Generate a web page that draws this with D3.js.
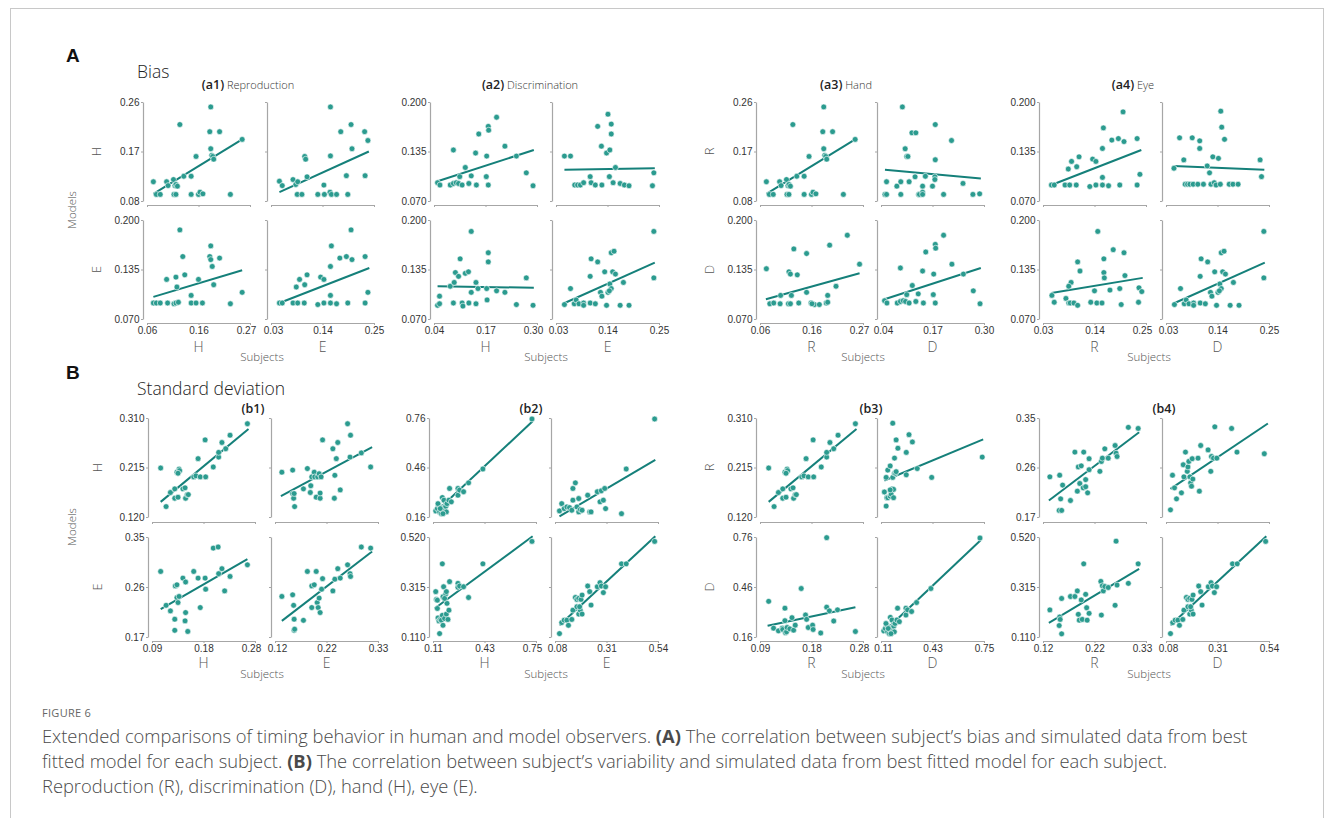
<!DOCTYPE html>
<html><head><meta charset="utf-8">
<script src="https://cdn.jsdelivr.net/npm/d3@7"></script>
<style>body{margin:0;background:#fff}svg{display:block}</style>
</head><body>
<svg id="c" width="1333" height="818"></svg>
<script>
// ---------- axes (domain + tick labels: min, mid, max) ----------
const X1 = [0.06, 0.27], X1L = ["0.06","0.16","0.27"];
const X2 = [0.03, 0.25], X2L = ["0.03","0.14","0.25"];
const X3 = [0.04, 0.30], X3L = ["0.04","0.17","0.30"];
const Y1 = [0.08, 0.26], Y1L = ["0.08","0.17","0.26"];
const Y2 = [0.070, 0.200], Y2L = ["0.070","0.135","0.200"];
const X4 = [0.09, 0.28], X4L = ["0.09","0.18","0.28"];
const X5 = [0.12, 0.33], X5L = ["0.12","0.22","0.33"];
const X6 = [0.11, 0.75], X6L = ["0.11","0.43","0.75"];
const X7 = [0.08, 0.54], X7L = ["0.08","0.31","0.54"];
const Y3 = [0.120, 0.310], Y3L = ["0.120","0.215","0.310"];
const Y4 = [0.17, 0.35], Y4L = ["0.17","0.26","0.35"];
const Y5 = [0.16, 0.76], Y5L = ["0.16","0.46","0.76"];
const Y6 = [0.110, 0.520], Y6L = ["0.110","0.315","0.520"];

// ---------- A: bias (subject x, model y) ----------
const biasRepHH = [[0.073,0.115],[0.079,0.092],[0.087,0.092],[0.100,0.115],[0.103,0.108],[0.114,0.119],[0.117,0.108],[0.119,0.110],[0.122,0.107],[0.115,0.092],[0.119,0.092],[0.127,0.219],[0.135,0.125],[0.150,0.125],[0.150,0.092],[0.160,0.161],[0.165,0.092],[0.168,0.096],[0.174,0.093],[0.190,0.251],[0.188,0.206],[0.208,0.206],[0.190,0.175],[0.192,0.163],[0.194,0.161],[0.196,0.156],[0.230,0.092],[0.254,0.192]];
const biasRepHHFit = [0.073,0.093,0.254,0.192];
const biasRepHE = [[0.048,0.116],[0.054,0.108],[0.077,0.119],[0.083,0.110],[0.087,0.115],[0.086,0.092],[0.096,0.092],[0.102,0.161],[0.104,0.156],[0.107,0.124],[0.130,0.092],[0.143,0.109],[0.144,0.092],[0.156,0.096],[0.159,0.092],[0.170,0.092],[0.157,0.251],[0.157,0.162],[0.179,0.206],[0.201,0.219],[0.230,0.206],[0.237,0.190],[0.203,0.175],[0.191,0.126],[0.194,0.092],[0.231,0.126]];
const biasRepHEFit = [0.048,0.096,0.239,0.170];
const biasRepEH = [[0.073,0.091],[0.079,0.091],[0.087,0.091],[0.102,0.091],[0.115,0.090],[0.119,0.091],[0.124,0.092],[0.100,0.122],[0.119,0.125],[0.121,0.112],[0.127,0.187],[0.133,0.152],[0.137,0.128],[0.150,0.101],[0.150,0.091],[0.160,0.091],[0.165,0.122],[0.173,0.091],[0.190,0.166],[0.188,0.152],[0.190,0.148],[0.193,0.139],[0.208,0.150],[0.196,0.115],[0.230,0.090],[0.254,0.105]];
const biasRepEHFit = [0.073,0.099,0.254,0.134];
const biasRepEE = [[0.048,0.091],[0.054,0.091],[0.077,0.091],[0.087,0.091],[0.101,0.091],[0.130,0.089],[0.143,0.091],[0.157,0.091],[0.170,0.090],[0.194,0.091],[0.231,0.091],[0.084,0.112],[0.091,0.122],[0.102,0.115],[0.107,0.128],[0.136,0.125],[0.143,0.122],[0.157,0.101],[0.157,0.139],[0.159,0.166],[0.177,0.150],[0.191,0.152],[0.201,0.187],[0.203,0.148],[0.231,0.152],[0.237,0.105]];
const biasRepEEFit = [0.048,0.091,0.240,0.137];
const biasDisHH = [[0.049,0.094],[0.055,0.091],[0.081,0.091],[0.089,0.093],[0.096,0.094],[0.102,0.093],[0.111,0.091],[0.089,0.137],[0.105,0.102],[0.119,0.114],[0.128,0.093],[0.134,0.103],[0.147,0.091],[0.153,0.158],[0.145,0.133],[0.173,0.129],[0.172,0.102],[0.177,0.168],[0.178,0.163],[0.177,0.091],[0.198,0.180],[0.219,0.142],[0.248,0.129],[0.273,0.107],[0.290,0.090]];
const biasDisHHFit = [0.049,0.096,0.292,0.137];
const biasDisHE = [[0.048,0.129],[0.061,0.129],[0.070,0.091],[0.076,0.091],[0.082,0.091],[0.089,0.094],[0.103,0.102],[0.105,0.094],[0.114,0.091],[0.119,0.168],[0.127,0.142],[0.128,0.091],[0.138,0.133],[0.141,0.184],[0.145,0.137],[0.148,0.171],[0.148,0.158],[0.144,0.102],[0.152,0.094],[0.157,0.114],[0.167,0.093],[0.176,0.091],[0.186,0.090],[0.236,0.090],[0.239,0.107]];
const biasDisHEFit = [0.048,0.111,0.241,0.113];
const biasDisEH = [[0.049,0.088],[0.054,0.090],[0.054,0.100],[0.081,0.113],[0.089,0.091],[0.091,0.118],[0.094,0.131],[0.102,0.126],[0.106,0.149],[0.111,0.091],[0.113,0.087],[0.119,0.130],[0.128,0.091],[0.127,0.132],[0.134,0.185],[0.134,0.105],[0.146,0.118],[0.146,0.090],[0.151,0.110],[0.173,0.110],[0.174,0.095],[0.177,0.157],[0.177,0.145],[0.198,0.107],[0.219,0.105],[0.248,0.089],[0.273,0.124],[0.290,0.088]];
const biasDisEHFit = [0.049,0.113,0.292,0.111];
const biasDisEE = [[0.048,0.089],[0.061,0.110],[0.069,0.090],[0.073,0.095],[0.079,0.090],[0.089,0.091],[0.089,0.088],[0.103,0.091],[0.103,0.126],[0.105,0.149],[0.114,0.090],[0.119,0.145],[0.125,0.105],[0.128,0.100],[0.134,0.132],[0.138,0.088],[0.141,0.105],[0.145,0.116],[0.148,0.110],[0.151,0.132],[0.148,0.157],[0.154,0.159],[0.157,0.129],[0.167,0.088],[0.174,0.118],[0.186,0.088],[0.239,0.185],[0.239,0.124],[0.144,0.107]];
const biasDisEEFit = [0.045,0.090,0.241,0.144];
const biasHandRD = [[0.054,0.115],[0.050,0.092],[0.054,0.092],[0.080,0.107],[0.090,0.115],[0.090,0.092],[0.094,0.251],[0.101,0.175],[0.105,0.161],[0.108,0.161],[0.111,0.115],[0.118,0.204],[0.128,0.204],[0.126,0.124],[0.135,0.092],[0.137,0.092],[0.145,0.107],[0.145,0.096],[0.145,0.092],[0.152,0.125],[0.170,0.107],[0.176,0.124],[0.176,0.119],[0.177,0.219],[0.177,0.155],[0.198,0.092],[0.218,0.190],[0.247,0.112],[0.272,0.092],[0.289,0.093]];
const biasHandRDFit = [0.050,0.137,0.292,0.121];
const biasHandDR = [[0.073,0.136],[0.080,0.090],[0.088,0.091],[0.101,0.090],[0.102,0.101],[0.118,0.090],[0.119,0.132],[0.122,0.090],[0.122,0.129],[0.124,0.101],[0.129,0.162],[0.136,0.128],[0.139,0.091],[0.155,0.156],[0.155,0.105],[0.164,0.091],[0.171,0.089],[0.181,0.089],[0.195,0.091],[0.198,0.101],[0.202,0.167],[0.215,0.113],[0.238,0.180],[0.263,0.142],[0.198,0.092],[0.166,0.090]];
const biasHandDRFit = [0.072,0.096,0.263,0.130];
const biasEyeRD = [[0.047,0.113],[0.059,0.153],[0.068,0.124],[0.071,0.092],[0.076,0.092],[0.081,0.092],[0.088,0.092],[0.086,0.153],[0.098,0.092],[0.102,0.149],[0.102,0.139],[0.110,0.092],[0.118,0.116],[0.123,0.107],[0.126,0.092],[0.130,0.128],[0.133,0.094],[0.137,0.091],[0.142,0.126],[0.146,0.092],[0.147,0.188],[0.149,0.167],[0.155,0.151],[0.165,0.092],[0.173,0.092],[0.184,0.092],[0.231,0.124],[0.234,0.102]];
const biasEyeRDFit = [0.046,0.116,0.240,0.111];
const biasEyeDR = [[0.049,0.101],[0.054,0.092],[0.079,0.097],[0.085,0.091],[0.088,0.091],[0.090,0.118],[0.085,0.113],[0.096,0.091],[0.104,0.088],[0.104,0.145],[0.109,0.133],[0.132,0.092],[0.140,0.107],[0.145,0.091],[0.147,0.185],[0.156,0.091],[0.160,0.149],[0.160,0.131],[0.161,0.124],[0.173,0.108],[0.180,0.161],[0.194,0.110],[0.197,0.089],[0.203,0.157],[0.205,0.127],[0.234,0.092],[0.235,0.111],[0.241,0.106]];
const biasEyeDRFit = [0.048,0.104,0.243,0.124];

// ---------- B: standard deviation ----------
const sdRepHH = [[0.106,0.214],[0.116,0.140],[0.124,0.167],[0.132,0.174],[0.132,0.156],[0.136,0.206],[0.138,0.158],[0.140,0.212],[0.141,0.209],[0.147,0.174],[0.151,0.176],[0.152,0.156],[0.155,0.163],[0.157,0.163],[0.167,0.197],[0.171,0.199],[0.175,0.232],[0.179,0.197],[0.189,0.197],[0.188,0.268],[0.203,0.216],[0.213,0.235],[0.213,0.244],[0.219,0.263],[0.226,0.251],[0.234,0.277],[0.266,0.299],[0.138,0.204]];
const sdRepHHFit = [0.106,0.149,0.268,0.289];
const sdRepHE = [[0.134,0.206],[0.156,0.210],[0.156,0.165],[0.158,0.156],[0.159,0.165],[0.160,0.140],[0.178,0.174],[0.186,0.213],[0.192,0.167],[0.193,0.180],[0.195,0.197],[0.200,0.206],[0.201,0.197],[0.204,0.158],[0.207,0.197],[0.210,0.203],[0.212,0.156],[0.212,0.166],[0.214,0.197],[0.217,0.268],[0.238,0.251],[0.241,0.156],[0.242,0.200],[0.245,0.232],[0.248,0.263],[0.253,0.172],[0.268,0.299],[0.273,0.235],[0.274,0.277],[0.296,0.243],[0.315,0.216]];
const sdRepHEFit = [0.132,0.160,0.318,0.254];
const sdRepEH = [[0.106,0.288],[0.116,0.227],[0.124,0.217],[0.132,0.202],[0.132,0.182],[0.133,0.262],[0.136,0.264],[0.136,0.241],[0.138,0.232],[0.140,0.243],[0.147,0.276],[0.151,0.199],[0.152,0.214],[0.152,0.269],[0.156,0.180],[0.167,0.288],[0.175,0.276],[0.179,0.223],[0.188,0.276],[0.189,0.256],[0.203,0.330],[0.212,0.332],[0.213,0.284],[0.219,0.293],[0.224,0.253],[0.234,0.279],[0.266,0.300]];
const sdRepEHFit = [0.106,0.220,0.266,0.310];
const sdRepEE = [[0.134,0.243],[0.156,0.246],[0.158,0.227],[0.159,0.202],[0.159,0.182],[0.160,0.184],[0.178,0.200],[0.186,0.288],[0.195,0.223],[0.195,0.262],[0.200,0.264],[0.204,0.288],[0.206,0.232],[0.208,0.223],[0.210,0.240],[0.212,0.214],[0.215,0.256],[0.217,0.275],[0.238,0.253],[0.242,0.274],[0.248,0.293],[0.253,0.276],[0.268,0.300],[0.273,0.284],[0.274,0.279],[0.296,0.332],[0.315,0.330]];
const sdRepEEFit = [0.134,0.199,0.318,0.324];
const sdDisHH = [[0.127,0.197],[0.137,0.211],[0.147,0.231],[0.151,0.191],[0.162,0.180],[0.168,0.278],[0.172,0.201],[0.178,0.262],[0.182,0.217],[0.189,0.225],[0.193,0.191],[0.197,0.241],[0.209,0.262],[0.213,0.333],[0.224,0.252],[0.265,0.333],[0.265,0.292],[0.275,0.323],[0.300,0.313],[0.331,0.367],[0.420,0.451],[0.725,0.754],[0.141,0.241],[0.155,0.211],[0.172,0.180]];
const sdDisHHFit = [0.120,0.184,0.729,0.740];
const sdDisHE = [[0.100,0.197],[0.110,0.241],[0.121,0.211],[0.133,0.221],[0.145,0.217],[0.155,0.201],[0.160,0.262],[0.160,0.333],[0.171,0.367],[0.178,0.221],[0.186,0.272],[0.186,0.191],[0.193,0.205],[0.201,0.201],[0.226,0.292],[0.235,0.191],[0.241,0.191],[0.269,0.313],[0.281,0.252],[0.287,0.319],[0.296,0.262],[0.302,0.333],[0.306,0.211],[0.377,0.180],[0.398,0.451],[0.525,0.754]];
const sdDisHEFit = [0.100,0.164,0.528,0.506];
const sdDisEH = [[0.127,0.296],[0.131,0.264],[0.137,0.261],[0.137,0.227],[0.141,0.188],[0.147,0.176],[0.151,0.124],[0.155,0.182],[0.162,0.179],[0.168,0.410],[0.168,0.199],[0.172,0.275],[0.172,0.158],[0.176,0.316],[0.182,0.186],[0.189,0.286],[0.193,0.296],[0.193,0.204],[0.197,0.248],[0.203,0.182],[0.209,0.220],[0.213,0.337],[0.265,0.330],[0.265,0.314],[0.275,0.319],[0.300,0.316],[0.331,0.272],[0.420,0.410],[0.725,0.502],[0.182,0.268]];
const sdDisEHFit = [0.120,0.227,0.729,0.523];
const sdDisEE = [[0.100,0.124],[0.110,0.169],[0.121,0.179],[0.133,0.179],[0.140,0.158],[0.155,0.182],[0.160,0.220],[0.171,0.272],[0.178,0.264],[0.186,0.268],[0.186,0.204],[0.193,0.220],[0.196,0.264],[0.201,0.282],[0.201,0.204],[0.226,0.319],[0.235,0.296],[0.241,0.241],[0.269,0.316],[0.281,0.333],[0.287,0.319],[0.296,0.292],[0.306,0.316],[0.377,0.410],[0.398,0.410],[0.525,0.502],[0.178,0.234],[0.190,0.234]];
const sdDisEEFit = [0.100,0.158,0.528,0.523];
const sdHandRD = [[0.131,0.168],[0.142,0.141],[0.146,0.157],[0.142,0.196],[0.152,0.157],[0.152,0.210],[0.167,0.218],[0.167,0.160],[0.173,0.164],[0.179,0.174],[0.183,0.300],[0.183,0.196],[0.188,0.157],[0.188,0.173],[0.194,0.233],[0.194,0.204],[0.200,0.204],[0.204,0.268],[0.204,0.207],[0.215,0.252],[0.267,0.244],[0.267,0.201],[0.284,0.278],[0.305,0.264],[0.335,0.213],[0.425,0.196],[0.739,0.235],[0.167,0.172]];
const sdHandRDFit = [0.131,0.190,0.745,0.269];
const sdHandDR = [[0.106,0.374],[0.115,0.213],[0.124,0.197],[0.131,0.213],[0.132,0.205],[0.136,0.333],[0.136,0.258],[0.137,0.186],[0.139,0.191],[0.140,0.217],[0.145,0.209],[0.149,0.276],[0.152,0.201],[0.155,0.231],[0.166,0.451],[0.174,0.292],[0.176,0.266],[0.179,0.217],[0.187,0.231],[0.188,0.205],[0.202,0.184],[0.213,0.339],[0.213,0.756],[0.218,0.317],[0.226,0.256],[0.233,0.323],[0.266,0.193]];
const sdHandDRFit = [0.104,0.227,0.266,0.339];
const sdEyeRR = [[0.134,0.243],[0.153,0.182],[0.154,0.246],[0.156,0.203],[0.158,0.182],[0.160,0.228],[0.176,0.200],[0.185,0.288],[0.190,0.217],[0.192,0.261],[0.195,0.231],[0.198,0.263],[0.202,0.223],[0.203,0.288],[0.207,0.238],[0.207,0.225],[0.211,0.214],[0.214,0.276],[0.214,0.256],[0.236,0.253],[0.239,0.271],[0.241,0.277],[0.246,0.294],[0.253,0.277],[0.267,0.300],[0.269,0.286],[0.271,0.280],[0.294,0.333],[0.314,0.331]];
const sdEyeRRFit = [0.132,0.200,0.316,0.324];
const sdEyeRD = [[0.100,0.183],[0.109,0.246],[0.118,0.223],[0.127,0.203],[0.149,0.214],[0.157,0.265],[0.160,0.243],[0.167,0.288],[0.175,0.253],[0.178,0.261],[0.182,0.271],[0.187,0.243],[0.190,0.232],[0.194,0.226],[0.197,0.276],[0.200,0.239],[0.223,0.277],[0.229,0.217],[0.235,0.300],[0.268,0.292],[0.280,0.253],[0.283,0.280],[0.292,0.277],[0.298,0.334],[0.307,0.277],[0.373,0.331],[0.397,0.288],[0.519,0.285]];
const sdEyeRDFit = [0.100,0.221,0.535,0.340];
const sdEyeDR = [[0.134,0.221],[0.153,0.157],[0.154,0.192],[0.155,0.182],[0.158,0.268],[0.158,0.123],[0.176,0.276],[0.185,0.276],[0.190,0.299],[0.192,0.203],[0.194,0.179],[0.198,0.262],[0.200,0.182],[0.203,0.410],[0.207,0.285],[0.209,0.230],[0.210,0.179],[0.214,0.207],[0.238,0.338],[0.239,0.200],[0.241,0.320],[0.243,0.299],[0.246,0.317],[0.253,0.313],[0.267,0.240],[0.271,0.323],[0.294,0.330],[0.314,0.410],[0.269,0.503]];
const sdEyeDRFit = [0.132,0.168,0.316,0.389];

// ---------- text ----------
const groupTitlesA = [["(a1)"," Reproduction"],["(a2)"," Discrimination"],["(a3)"," Hand"],["(a4)"," Eye"]];
const groupTitlesB = [["(b1)",""],["(b2)",""],["(b3)",""],["(b4)",""]];
const captionLines = [
 [["Extended comparisons of timing behavior in human and model observers. ",0],["(A)",1],[" The correlation between subject’s bias and simulated data from best",0]],
 [["fitted model for each subject. ",0],["(B)",1],[" The correlation between subject’s variability and simulated data from best fitted model for each subject.",0]],
 [["Reproduction (R), discrimination (D), hand (H), eye (E).",0]]
];

// ---------- layout (built from the arrays above) ----------
const sections = [
 { label:"A", title:"Bias", labelY:62, titleY:78, groupTitleY:89,
   rows:[[102,201,205],[220,319,323]], colLabY:352, subjY:361, modelsY:210,
   groups:[
    {yl:[143,267], tx:248, sx:262, cols:[[X1,X1L],[X2,X2L]], rowsAx:[[Y1,Y1L],[Y2,Y2L]], rl:["H","E"], cl:["H","E"], rowLabX:97,
     p:[[[biasRepHH,biasRepHHFit],[biasRepHE,biasRepHEFit]],[[biasRepEH,biasRepEHFit],[biasRepEE,biasRepEEFit]]]},
    {yl:[430,552], tx:530, sx:546, cols:[[X3,X3L],[X2,X2L]], rowsAx:[[Y2,Y2L],[Y2,Y2L]], rl:null, cl:["H","E"],
     p:[[[biasDisHH,biasDisHHFit],[biasDisHE,biasDisHEFit]],[[biasDisEH,biasDisEHFit],[biasDisEE,biasDisEEFit]]]},
    {yl:[756,877], tx:846, sx:863, cols:[[X1,X1L],[X3,X3L]], rowsAx:[[Y1,Y1L],[Y2,Y2L]], rl:["R","D"], cl:["R","D"], rowLabX:710,
     p:[[[biasRepHH,biasRepHHFit],[biasHandRD,biasHandRDFit]],[[biasHandDR,biasHandDRFit],[biasDisHH,biasDisHHFit]]]},
    {yl:[1039,1162], tx:1133, sx:1149, cols:[[X2,X2L],[X2,X2L]], rowsAx:[[Y2,Y2L],[Y2,Y2L]], rl:null, cl:["R","D"],
     p:[[[biasRepEE,biasRepEEFit],[biasEyeRD,biasEyeRDFit]],[[biasEyeDR,biasEyeDRFit],[biasDisEE,biasDisEEFit]]]}
   ], titles:groupTitlesA },
 { label:"B", title:"Standard deviation", labelY:379, titleY:395, groupTitleY:413,
   rows:[[418,517,522],[537,637,641]], colLabY:668, subjY:678, modelsY:527,
   groups:[
    {yl:[148,271], tx:253, sx:262, cols:[[X4,X4L],[X5,X5L]], rowsAx:[[Y3,Y3L],[Y4,Y4L]], rl:["H","E"], cl:["H","E"], rowLabX:98,
     p:[[[sdRepHH,sdRepHHFit],[sdRepHE,sdRepHEFit]],[[sdRepEH,sdRepEHFit],[sdRepEE,sdRepEEFit]]]},
    {yl:[429,551], tx:531, sx:546, cols:[[X6,X6L],[X7,X7L]], rowsAx:[[Y5,Y5L],[Y6,Y6L]], rl:null, cl:["H","E"],
     p:[[[sdDisHH,sdDisHHFit],[sdDisHE,sdDisHEFit]],[[sdDisEH,sdDisEHFit],[sdDisEE,sdDisEEFit]]]},
    {yl:[756,877], tx:871, sx:863, cols:[[X4,X4L],[X6,X6L]], rowsAx:[[Y3,Y3L],[Y5,Y5L]], rl:["R","D"], cl:["R","D"], rowLabX:710,
     p:[[[sdRepHH,sdRepHHFit],[sdHandRD,sdHandRDFit]],[[sdHandDR,sdHandDRFit],[sdDisHH,sdDisHHFit]]]},
    {yl:[1039,1162], tx:1164, sx:1149, cols:[[X5,X5L],[X7,X7L]], rowsAx:[[Y4,Y4L],[Y6,Y6L]], rl:null, cl:["R","D"],
     p:[[[sdEyeRR,sdEyeRRFit],[sdEyeRD,sdEyeRDFit]],[[sdEyeDR,sdEyeDRFit],[sdDisEE,sdDisEEFit]]]}
   ], titles:groupTitlesB }
];

const W = 103;
const DOT = "#2b9b8f", LINE = "#15807a", AX = "#a6a6a6";
const HUM = "'Open Sans','Noto Sans',sans-serif";
const svg = d3.select("#c");

// frame
svg.append("rect").attr("x",10.5).attr("y",8.5).attr("width",1313).attr("height",900)
  .attr("fill","none").attr("stroke","#c8c8c8").attr("stroke-width",1);

const mid = d => [d[0], (d[0]+d[1])/2, d[1]];

function styleAxis(g){
  g.select(".domain").attr("stroke",AX).attr("stroke-width",1.2);
  g.selectAll(".tick line").attr("stroke",AX);
  g.selectAll(".tick text").attr("fill","#333").attr("font-family","'Liberation Sans',Arial,sans-serif").attr("font-size",10);
}

sections.forEach(sec => {
  svg.append("text").attr("x",66).attr("y",sec.labelY).text(sec.label)
    .attr("font-family","'Liberation Sans',Arial,sans-serif").attr("font-weight","bold").attr("font-size",19).attr("fill","#111");
  svg.append("text").attr("x",137).attr("y",sec.titleY).text(sec.title)
    .attr("font-family",HUM).attr("font-weight",300).attr("font-size",17.5).attr("fill","#222");
  svg.append("text").attr("transform",`translate(76,${sec.modelsY}) rotate(-90)`).attr("text-anchor","middle")
    .text("Models").attr("font-family",HUM).attr("font-weight",300).attr("font-size",11.5).attr("fill","#555");

  sec.groups.forEach((gr, gi) => {
    const t = svg.append("text").attr("x",gr.tx).attr("y",sec.groupTitleY).attr("text-anchor","middle").attr("fill","#222").attr("font-family",HUM);
    t.append("tspan").text(sec.titles[gi][0]).attr("font-weight",600).attr("font-size",12.5);
    if (sec.titles[gi][1]) t.append("tspan").text(sec.titles[gi][1]).attr("font-weight",300).attr("font-size",11).attr("fill","#333");

    svg.append("text").attr("x",gr.sx).attr("y",sec.subjY).attr("text-anchor","middle").text("Subjects")
      .attr("font-family",HUM).attr("font-weight",300).attr("font-size",11.5).attr("fill","#555");

    for (let r=0;r<2;r++){
      const [yTop,yBot,axY] = sec.rows[r];
      if (gr.rl){
        svg.append("text").attr("transform",`translate(${gr.rowLabX+4},${(yTop+yBot)/2}) rotate(-90)`).attr("text-anchor","middle")
          .text(gr.rl[r]).attr("font-family",HUM).attr("font-weight",300).attr("font-size",13).attr("fill","#555");
      }
      for (let c=0;c<2;c++){
        const x0 = gr.yl[c]+4, x1 = x0+W;
        const [xd, xl] = gr.cols[c], [yd, ylab] = gr.rowsAx[r];
        const xs = d3.scaleLinear().domain(xd).range([x0,x1]);
        const ys = d3.scaleLinear().domain(yd).range([yBot,yTop]);
        const g = svg.append("g");
        const xa = d3.axisBottom(xs).tickValues(mid(xd)).tickSize(2).tickSizeOuter(0).tickPadding(2)
          .tickFormat((d,i)=> r===1 ? xl[i] : "");
        const xg = g.append("g").attr("transform",`translate(0,${axY})`).call(xa).call(styleAxis);
        // nudge end labels apart where adjacent panels meet
        if (c===0) xg.selectAll(".tick text").filter((d,i)=>i===2).attr("dx",-4);
        if (c===1) xg.selectAll(".tick text").filter((d,i)=>i===0).attr("dx",2);
        const ya = d3.axisLeft(ys).tickValues(mid(yd)).tickSize(2).tickSizeOuter(0).tickPadding(1.5)
          .tickFormat((d,i)=> c===0 ? ylab[i] : "");
        g.append("g").attr("transform",`translate(${gr.yl[c]},0)`).call(ya).call(styleAxis);
        const [pts, fit] = gr.p[r][c];
        g.append("line").attr("x1",xs(fit[0])).attr("y1",ys(fit[1])).attr("x2",xs(fit[2])).attr("y2",ys(fit[3]))
          .attr("stroke",LINE).attr("stroke-width",2);
        g.selectAll("circle").data(pts).join("circle")
          .attr("cx",d=>xs(d[0])).attr("cy",d=>ys(d[1])).attr("r",2.9)
          .attr("fill",DOT).attr("stroke","#fff").attr("stroke-width",0.6);
        if (r===1){
          svg.append("text").attr("x",(x0+x1)/2).attr("y",sec.colLabY).attr("text-anchor","middle").text(gr.cl[c])
            .attr("font-family",HUM).attr("font-weight",300).attr("font-size",14).attr("fill","#555");
        }
      }
    }
  });
});

// caption
svg.append("text").attr("x",42).attr("y",717).text("FIGURE 6")
  .attr("font-family",HUM).attr("font-size",11).attr("fill","#666").attr("letter-spacing",0.3);
const capY = [743,768,793];
const capNodes = captionLines.map((ln,i)=>{
  const t = svg.append("text").attr("x",42).attr("y",capY[i]).attr("font-family",HUM).attr("fill","#4a4a4a").attr("font-size",16);
  ln.forEach(s=> t.append("tspan").text(s[0]).attr("font-weight", s[1]?700:300));
  return t;
});
const w0 = capNodes[0].node().getComputedTextLength();
const fs = 16*1206/w0;
capNodes.forEach(t=>t.attr("font-size",fs));
</script>
</body></html>
